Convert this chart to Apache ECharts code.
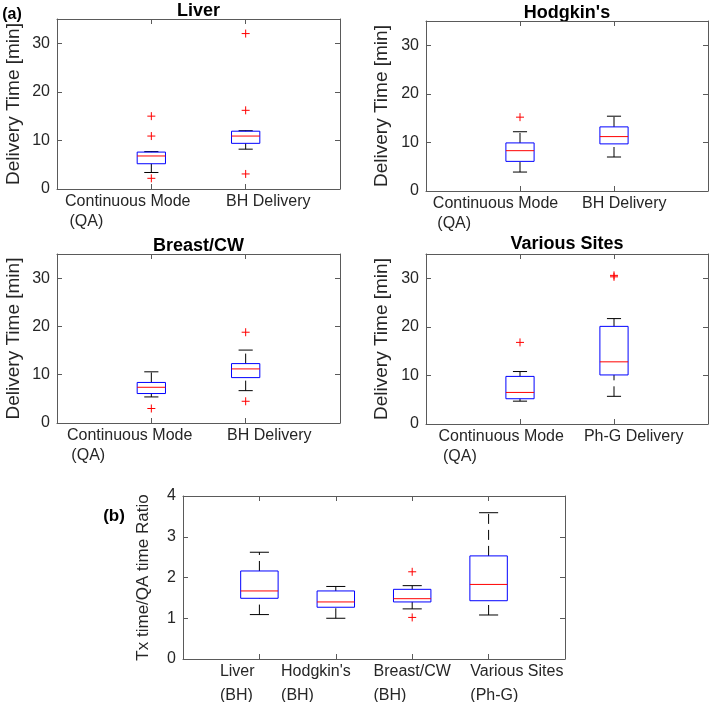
<!DOCTYPE html>
<html>
<head>
<meta charset="utf-8">
<script src="https://cdn.jsdelivr.net/npm/echarts@6/dist/echarts.min.js"></script>
<style>
html, body { margin: 0; padding: 0; background: #fff; }
#chart { width: 709px; height: 702px; }
</style>
</head>
<body>
<div id="chart"></div>
<script>
// box stats per group: [lower whisker, Q1, median, Q3, upper whisker]
const liverCats = ['Continuous Mode\n (QA)', 'BH Delivery'];
const liverBoxes = [[3.4, 5.2, 6.8, 7.6, 7.7], [8.2, 9.4, 10.9, 11.9, 12.0]];
const liverOutliers = [[15.0, 10.9, 2.2], [32.0, 16.2, 3.1]];

const hodgkinCats = ['Continuous Mode\n (QA)', 'BH Delivery'];
const hodgkinBoxes = [[3.9, 6.1, 8.3, 9.9, 12.2], [7.0, 9.7, 11.2, 13.2, 15.4]];
const hodgkinOutliers = [[15.2], []];

const breastCats = ['Continuous Mode\n (QA)', 'BH Delivery'];
const breastBoxes = [[5.4, 6.1, 7.4, 8.4, 10.6], [6.7, 9.4, 11.2, 12.3, 15.1]];
const breastOutliers = [[3.0], [18.8, 4.5]];

const variousCats = ['Continuous Mode\n (QA)', 'Ph-G Delivery'];
const variousBoxes = [[4.7, 5.2, 6.5, 9.8, 10.8], [5.7, 10.1, 12.8, 20.1, 21.7]];
const variousOutliers = [[16.8], [30.3, 30.6]];

const ratioCats = ['Liver\n(BH)', "Hodgkin's\n(BH)", 'Breast/CW\n(BH)', 'Various Sites\n(Ph-G)'];
const ratioBoxes = [[1.09, 1.49, 1.67, 2.16, 2.62], [1.00, 1.27, 1.40, 1.67, 1.78],
                    [1.23, 1.40, 1.48, 1.71, 1.80], [1.08, 1.43, 1.83, 2.53, 3.59]];
const ratioOutliers = [[], [], [2.14, 1.02], []];

const timeTicks = [0, 10, 20, 30];
const ratioTicks = [0, 1, 2, 3, 4];

const FONT = '"Liberation Sans", Arial, Helvetica, sans-serif';
const AXIS_COLOR = '#5a5a5a';
const TEXT_COLOR = '#262626';

// layout of each panel (pixels) and where the tick label blocks sit
const panels = [
    { title: 'Liver', titleX: 198.5, titleY: 11.5, cats: liverCats, boxes: liverBoxes, out: liverOutliers,
      ticks: timeTicks, yMax: 35, yName: 'Delivery Time [min]', nameSize: 19, nameGap: 34,
      grid: { left: 57, top: 19, width: 283, height: 170 }, labelAt: [0.75, 2.24], lineH: 20, margin: 3,
      boxHalf: 0.15, capHalf: 0.075 },
    { title: "Hodgkin's", titleX: 567, titleY: 13, cats: hodgkinCats, boxes: hodgkinBoxes, out: hodgkinOutliers,
      ticks: timeTicks, yMax: 35, yName: 'Delivery Time [min]', nameSize: 19, nameGap: 35,
      grid: { left: 426, top: 21, width: 282, height: 170 }, labelAt: [0.74, 2.11], lineH: 20, margin: 3,
      boxHalf: 0.15, capHalf: 0.075 },
    { title: 'Breast/CW', titleX: 198.5, titleY: 245.7, cats: breastCats, boxes: breastBoxes, out: breastOutliers,
      ticks: timeTicks, yMax: 35, yName: 'Delivery Time [min]', nameSize: 19, nameGap: 34,
      grid: { left: 57, top: 254, width: 283, height: 169 }, labelAt: [0.77, 2.25], lineH: 20, margin: 3,
      boxHalf: 0.15, capHalf: 0.075 },
    { title: 'Various Sites', titleX: 567, titleY: 244.3, cats: variousCats, boxes: variousBoxes, out: variousOutliers,
      ticks: timeTicks, yMax: 35, yName: 'Delivery Time [min]', nameSize: 19, nameGap: 35,
      grid: { left: 426, top: 254, width: 282, height: 170 }, labelAt: [0.80, 2.21], lineH: 20, margin: 3,
      boxHalf: 0.15, capHalf: 0.075 },
    { title: '', cats: ratioCats, boxes: ratioBoxes, out: ratioOutliers,
      ticks: ratioTicks, yMax: 4, yName: 'Tx time/QA time Ratio', nameSize: 17, nameGap: 31,
      grid: { left: 183, top: 496, width: 382, height: 163 }, labelAt: [0.71, 1.74, 3.0, 4.37], lineH: 24, margin: 1,
      boxHalf: 0.245, capHalf: 0.125 }
];

function boxRenderer(boxHalf, capHalf) {
    return function (params, api) {
        const x = api.value(0);
        const lo = api.coord([x, api.value(1)]);
        const q1 = api.coord([x, api.value(2)]);
        const md = api.coord([x, api.value(3)]);
        const q3 = api.coord([x, api.value(4)]);
        const hi = api.coord([x, api.value(5)]);
        const bw = api.size([boxHalf, 0])[0];
        const cw = api.size([capHalf, 0])[0];
        const cx = lo[0];
        const dash = { stroke: '#000', lineWidth: 1, lineDash: [10, 6] };
        const solid = { stroke: '#000', lineWidth: 1 };
        // whiskers are drawn upward (low value -> high value) so the dash phase matches
        return {
            type: 'group',
            children: [
                { type: 'line', shape: { x1: cx, y1: q3[1], x2: cx, y2: hi[1] }, style: dash },
                { type: 'line', shape: { x1: cx, y1: lo[1], x2: cx, y2: q1[1] }, style: dash },
                { type: 'line', shape: { x1: cx - cw, y1: hi[1], x2: cx + cw, y2: hi[1] }, style: solid },
                { type: 'line', shape: { x1: cx - cw, y1: lo[1], x2: cx + cw, y2: lo[1] }, style: solid },
                { type: 'rect', shape: { x: cx - bw, y: q3[1], width: 2 * bw, height: q1[1] - q3[1] },
                  style: { fill: 'none', stroke: '#0000ff', lineWidth: 1 } },
                { type: 'line', shape: { x1: cx - bw, y1: md[1], x2: cx + bw, y2: md[1] },
                  style: { stroke: '#ff0000', lineWidth: 1 } }
            ]
        };
    };
}

function plusRenderer(params, api) {
    const p = api.coord([api.value(0), api.value(1)]);
    const s = 4;
    const st = { stroke: '#ff0000', lineWidth: 1 };
    return {
        type: 'group',
        children: [
            { type: 'line', shape: { x1: p[0] - s, y1: p[1], x2: p[0] + s, y2: p[1] }, style: st },
            { type: 'line', shape: { x1: p[0], y1: p[1] - s, x2: p[0], y2: p[1] + s }, style: st }
        ]
    };
}

const grids = [], xAxes = [], yAxes = [], series = [], graphics = [];

panels.forEach((p, i) => {
    const n = p.cats.length;
    const pos = p.cats.map((c, j) => j + 1);
    const lineStyle = { color: AXIS_COLOR, width: 1 };
    grids.push(Object.assign({ containLabel: false, outerBoundsMode: 'none' }, p.grid));

    xAxes.push({
        gridIndex: i, type: 'value', min: 0, max: n + 1, position: 'bottom',
        axisLine: { show: true, onZero: false, lineStyle },
        axisTick: { show: true, inside: true, length: 5, customValues: pos, lineStyle },
        axisLabel: {
            customValues: p.labelAt, margin: p.margin,
            formatter: function (v) {
                const j = p.labelAt.findIndex(a => Math.abs(a - v) < 1e-6);
                if (j < 0) return '';
                return p.cats[j].split('\n').map(s => '{l|' + s + '}').join('\n');
            },
            rich: { l: { align: 'left', fontSize: 16, fontFamily: FONT, color: TEXT_COLOR, lineHeight: p.lineH } }
        },
        splitLine: { show: false }
    });
    xAxes.push({
        gridIndex: i, type: 'value', min: 0, max: n + 1, position: 'top',
        axisLine: { show: true, onZero: false, lineStyle },
        axisTick: { show: true, inside: true, length: 5, customValues: pos, lineStyle },
        axisLabel: { show: false },
        splitLine: { show: false }
    });

    yAxes.push({
        gridIndex: i, type: 'value', min: 0, max: p.yMax, position: 'left',
        name: p.yName, nameLocation: 'middle', nameGap: p.nameGap,
        nameTextStyle: { fontSize: p.nameSize, fontFamily: FONT, color: TEXT_COLOR },
        axisLine: { show: true, onZero: false, lineStyle },
        axisTick: { show: true, inside: true, length: 5, customValues: p.ticks, lineStyle },
        axisLabel: { customValues: p.ticks, margin: 7, fontSize: 16, fontFamily: FONT, color: TEXT_COLOR },
        splitLine: { show: false }
    });
    yAxes.push({
        gridIndex: i, type: 'value', min: 0, max: p.yMax, position: 'right',
        axisLine: { show: true, onZero: false, lineStyle },
        axisTick: { show: true, inside: true, length: 5, customValues: p.ticks, lineStyle },
        axisLabel: { show: false },
        splitLine: { show: false }
    });

    series.push({
        type: 'custom', xAxisIndex: 2 * i, yAxisIndex: 2 * i, silent: true,
        renderItem: boxRenderer(p.boxHalf, p.capHalf),
        data: p.boxes.map((b, j) => [j + 1].concat(b))
    });
    const pts = [];
    p.out.forEach((list, j) => list.forEach(v => pts.push([j + 1, v])));
    series.push({
        type: 'custom', xAxisIndex: 2 * i, yAxisIndex: 2 * i, silent: true,
        renderItem: plusRenderer, data: pts
    });

    if (p.title) {
        graphics.push({
            type: 'text', x: p.titleX, y: p.titleY,
            style: { text: p.title, fontSize: 18, fontWeight: 'bold', fontFamily: FONT,
                     fill: '#000', align: 'center', verticalAlign: 'middle' }
        });
    }
});

graphics.push({ type: 'text', x: 12, y: 15,
    style: { text: '(a)', fontSize: 16, fontWeight: 'bold', fontFamily: FONT, fill: '#000', align: 'center', verticalAlign: 'middle' } });
graphics.push({ type: 'text', x: 114, y: 516,
    style: { text: '(b)', fontSize: 17, fontWeight: 'bold', fontFamily: FONT, fill: '#000', align: 'center', verticalAlign: 'middle' } });

const chart = echarts.init(document.getElementById('chart'), null, { renderer: 'canvas' });
chart.setOption({
    animation: false,
    backgroundColor: '#fff',
    grid: grids,
    xAxis: xAxes,
    yAxis: yAxes,
    series: series,
    graphic: graphics
});
</script>
</body>
</html>
